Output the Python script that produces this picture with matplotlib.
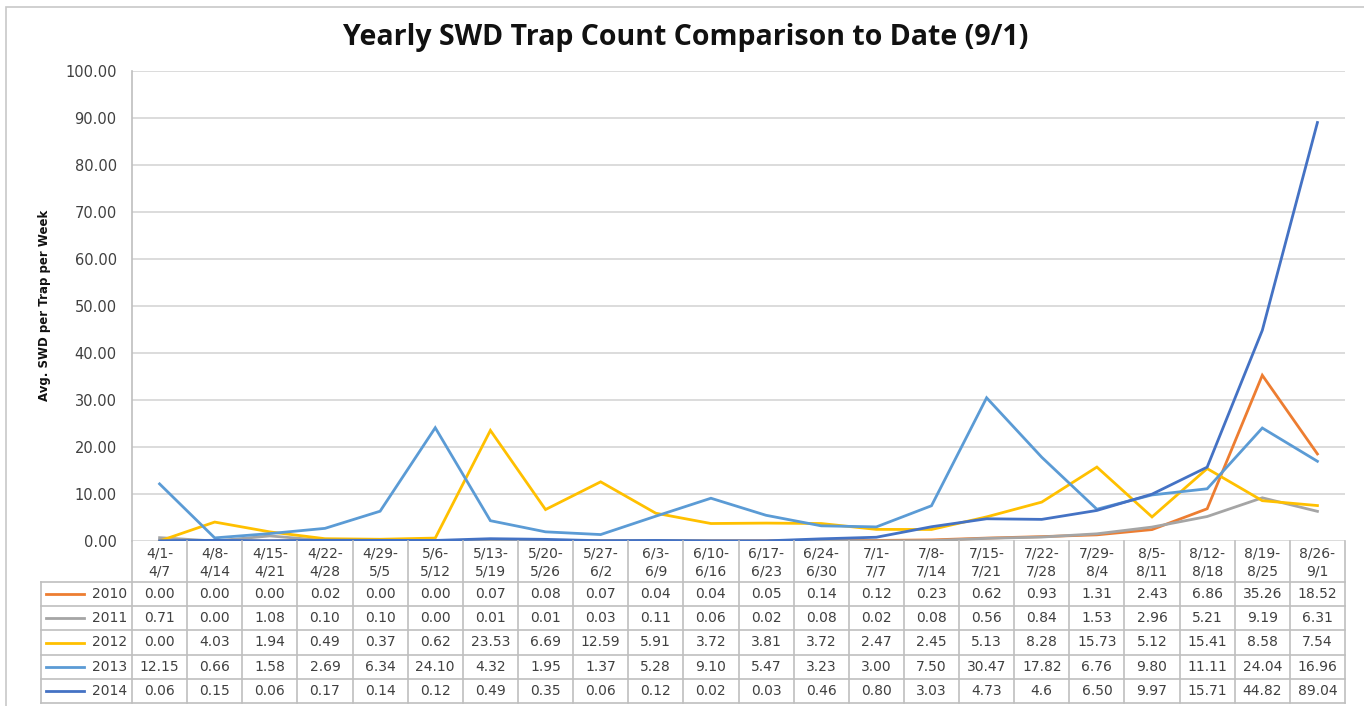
import matplotlib
matplotlib.use("Agg")
import matplotlib.pyplot as plt
from matplotlib.patches import Rectangle

weeks = ["4/1-\n4/7", "4/8-\n4/14", "4/15-\n4/21", "4/22-\n4/28", "4/29-\n5/5", "5/6-\n5/12",
         "5/13-\n5/19", "5/20-\n5/26", "5/27-\n6/2", "6/3-\n6/9", "6/10-\n6/16", "6/17-\n6/23",
         "6/24-\n6/30", "7/1-\n7/7", "7/8-\n7/14", "7/15-\n7/21", "7/22-\n7/28", "7/29-\n8/4",
         "8/5-\n8/11", "8/12-\n8/18", "8/19-\n8/25", "8/26-\n9/1"]

years = ["2010", "2011", "2012", "2013", "2014"]

y2010 = ["0.00", "0.00", "0.00", "0.02", "0.00", "0.00", "0.07", "0.08", "0.07", "0.04", "0.04",
         "0.05", "0.14", "0.12", "0.23", "0.62", "0.93", "1.31", "2.43", "6.86", "35.26", "18.52"]
y2011 = ["0.71", "0.00", "1.08", "0.10", "0.10", "0.00", "0.01", "0.01", "0.03", "0.11", "0.06",
         "0.02", "0.08", "0.02", "0.08", "0.56", "0.84", "1.53", "2.96", "5.21", "9.19", "6.31"]
y2012 = ["0.00", "4.03", "1.94", "0.49", "0.37", "0.62", "23.53", "6.69", "12.59", "5.91", "3.72",
         "3.81", "3.72", "2.47", "2.45", "5.13", "8.28", "15.73", "5.12", "15.41", "8.58", "7.54"]
y2013 = ["12.15", "0.66", "1.58", "2.69", "6.34", "24.10", "4.32", "1.95", "1.37", "5.28", "9.10",
         "5.47", "3.23", "3.00", "7.50", "30.47", "17.82", "6.76", "9.80", "11.11", "24.04", "16.96"]
y2014 = ["0.06", "0.15", "0.06", "0.17", "0.14", "0.12", "0.49", "0.35", "0.06", "0.12", "0.02",
         "0.03", "0.46", "0.80", "3.03", "4.73", "4.6", "6.50", "9.97", "15.71", "44.82", "89.04"]

series = [y2010, y2011, y2012, y2013, y2014]
colors = ["#ED7D31", "#A5A5A5", "#FFC000", "#5B9BD5", "#4472C4"]
yticks = [0, 10, 20, 30, 40, 50, 60, 70, 80, 90, 100]

W, H = 1364, 706
fig = plt.figure(figsize=(W / 100, H / 100), dpi=100)
fig.patch.set_facecolor("white")

# outer chart border
fig.patches.append(Rectangle((6 / W, -0.02), 1.1, 1 - 7 / H + 0.02, transform=fig.transFigure,
                             fill=False, edgecolor="#C8C8C8", linewidth=1.2))

pl, pr, pt, pb = 132, 1345, 71, 541
ax = fig.add_axes([pl / W, 1 - pb / H, (pr - pl) / W, (pb - pt) / H])
n = len(weeks)
x = list(range(n))
for vals, c in zip(series, colors):
    ax.plot(x, [float(v) for v in vals], color=c, linewidth=2.0, solid_joinstyle="miter", zorder=3)
ax.set_xlim(-0.5, n - 0.5)
ax.set_ylim(0, 100)
ax.set_yticks(yticks)
ax.set_yticklabels([f"{v:.2f}" for v in yticks], fontsize=10.5, color="#404040",
                   family="DejaVu Sans")
ax.tick_params(axis="y", length=0, pad=11)
ax.set_xticks([])
ax.grid(axis="y", color="#D9D9D9", linewidth=1.3, zorder=0)
for s in ["top", "right", "bottom"]:
    ax.spines[s].set_visible(False)
ax.spines["left"].set_color("#BFBFBF")
ax.spines["left"].set_linewidth(1.2)

fig.text(45 / W, 1 - 305 / H, "Avg. SWD per Trap per Week", rotation=90, ha="center", va="center",
         fontsize=8.5, fontweight="bold", family=["Liberation Sans Narrow", "DejaVu Sans"],
         color="#111111")
fig.text(686 / W, 1 - 37 / H, "Yearly SWD Trap Count Comparison to Date (9/1)", ha="center",
         va="center", fontsize=20.5, fontweight="bold", family="Open Sans", color="#111111")

# data table
tl, tr, tt, tb = 40, 1345, 541, 703
tax = fig.add_axes([tl / W, 1 - tb / H, (tr - tl) / W, (tb - tt) / H])
colw = (pr - pl) / n
lw_cols = (pl - tl) / colw
tax.set_xlim(-0.5 - lw_cols, n - 0.5)
tax.set_ylim(tb - tt, 0)
tax.axis("off")
hdr = 41
rowh = (tb - tt - hdr) / len(years)
gc = "#BFBFBF"
for i in range(n + 1):
    tax.plot([i - 0.5, i - 0.5], [0, tb - tt], color=gc, lw=1.2, clip_on=False)
tax.plot([-0.5 - lw_cols + 0.01] * 2, [hdr, tb - tt], color=gc, lw=1.2, clip_on=False)
for r in range(len(years) + 1):
    yy = hdr + r * rowh
    tax.plot([-0.5 - lw_cols + 0.01, n - 0.5], [yy, yy], color=gc, lw=1.2, clip_on=False)
for i, wk in enumerate(weeks):
    tax.text(i, hdr / 2 + 1, wk, ha="center", va="center", fontsize=10, color="#404040",
             family="DejaVu Sans", linespacing=1.3)
for r, (yr, vals, c) in enumerate(zip(years, series, colors)):
    yc = hdr + (r + 0.5) * rowh
    tax.plot([-0.5 - lw_cols + 0.1, -0.5 - lw_cols + 0.8], [yc, yc], color=c, lw=2.0)
    tax.text(-0.5 - 0.08, yc, yr, ha="right", va="center", fontsize=10, color="#404040",
             family="DejaVu Sans")
    for i, v in enumerate(vals):
        tax.text(i, yc, v, ha="center", va="center", fontsize=10, color="#404040",
                 family="DejaVu Sans")

fig.savefig("out.png", dpi=100, facecolor="white")
